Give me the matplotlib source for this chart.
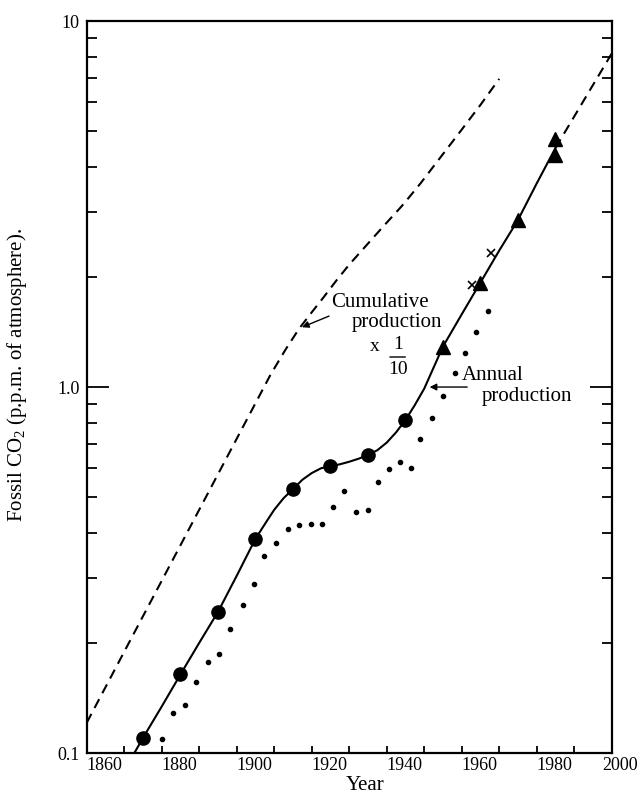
import matplotlib
matplotlib.use('Agg')
import matplotlib.pyplot as plt
import matplotlib.transforms as mtransforms
from matplotlib.ticker import LogLocator, NullFormatter, FixedLocator

plt.rcParams['font.family'] = ['Liberation Serif', 'DejaVu Serif']
plt.rcParams['mathtext.default'] = 'regular'

# Cumulative production x 1/10 (dashed curve)
cum_years = [1860, 1909, 1913, 1916.7, 1920, 1923, 1926.5, 1930, 1933.5, 1937, 1940.5, 1944,
             1946.5, 1949, 1955, 1960, 1965, 1970]
cum_vals = [0.121, 1.08, 1.265, 1.447, 1.60, 1.75, 1.95, 2.16, 2.37, 2.60, 2.85, 3.12,
            3.35, 3.60, 4.33, 5.05, 5.9, 6.95]

# Annual production, smoothed curve (solid)
ann_years = [1872.7, 1875, 1880, 1885, 1890, 1895, 1900, 1905, 1908, 1910, 1912.5, 1915, 1917.5,
             1920, 1922.5, 1925, 1927.5, 1930, 1932.5, 1935, 1937.5, 1940, 1942.5, 1945, 1947.5,
             1950, 1952.5, 1955, 1960, 1965, 1970, 1975, 1980, 1985]
ann_vals = [0.100, 0.110, 0.134, 0.164, 0.200, 0.243, 0.305, 0.385, 0.43, 0.462, 0.497, 0.526, 0.558,
            0.582, 0.600, 0.608, 0.615, 0.625, 0.637, 0.652, 0.672, 0.705, 0.752, 0.813, 0.893,
            0.99, 1.13, 1.29, 1.58, 1.93, 2.36, 2.86, 3.60, 4.50]

# Extrapolation to 2000 (dashed)
proj_years = [1985, 2000]
proj_vals = [4.50, 8.15]

# Decade means: circles and triangles
circle_years = [1875, 1885, 1895, 1905, 1915, 1925, 1935, 1945]
circle_vals = [0.110, 0.164, 0.243, 0.385, 0.526, 0.608, 0.652, 0.813]
tri_years = [1955, 1965, 1975, 1985, 1985]
tri_vals = [1.29, 1.93, 2.86, 4.30, 4.75]
cross_years = [1962.7, 1967.7]
cross_vals = [1.90, 2.32]

# Individual years (small dots)
dot_years = [1880.0, 1883.1, 1886.2, 1889.1, 1892.3, 1895.4, 1898.3, 1901.6, 1904.6, 1907.4,
             1910.5, 1913.7, 1916.6, 1919.7, 1922.7, 1925.6, 1928.7, 1931.8, 1935.0, 1937.8,
             1940.6, 1943.5, 1946.4, 1949.0, 1952.1, 1954.9, 1958.1, 1960.8, 1963.7, 1966.9]
dot_vals = [0.109, 0.129, 0.135, 0.156, 0.177, 0.186, 0.218, 0.254, 0.290, 0.345,
            0.376, 0.410, 0.419, 0.422, 0.422, 0.471, 0.521, 0.456, 0.460, 0.550,
            0.597, 0.624, 0.602, 0.719, 0.825, 0.946, 1.095, 1.238, 1.41, 1.61]

x_ticks = list(range(1860, 2001, 10))
x_labels = [str(y) if y % 20 == 0 else '' for y in x_ticks]

fig = plt.figure(figsize=(6.41, 7.94), dpi=100)
ax = fig.add_axes([0.1353, 0.0516, 0.819, 0.9219])

dash = (0, (4.8, 3.2))
ax.plot(cum_years, cum_vals, color='black', lw=1.5, linestyle=dash)
ax.plot(ann_years, ann_vals, color='black', lw=1.5)
ax.plot(proj_years, proj_vals, color='black', lw=1.5, linestyle=dash)
ax.plot(dot_years, dot_vals, 'o', color='black', ms=3.0, ls='none')
ax.plot(circle_years, circle_vals, 'o', color='black', ms=9.5, ls='none')
ax.plot(tri_years, tri_vals, '^', color='black', ms=9.5, ls='none')
ax.plot(cross_years, cross_vals, 'x', color='black', ms=6, mew=1.2, ls='none')

ax.set_yscale('log')
ax.set_xlim(1860, 2000)
ax.set_ylim(0.1, 10)

ax.set_yticks([0.1, 1, 10])
ax.set_yticklabels(['0.1', '1.0', '10'])
ax.yaxis.set_minor_locator(LogLocator(base=10, subs=range(2, 10)))
ax.yaxis.set_minor_formatter(NullFormatter())
ax.set_xticks(x_ticks)
ax.set_xticklabels(x_labels)
ax.xaxis.set_minor_locator(FixedLocator([]))

ax.tick_params(axis='y', which='both', direction='in', left=True, right=True, width=1.3,
               labelsize=13, pad=5)
ax.tick_params(axis='y', which='major', length=16)
ax.tick_params(axis='y', which='minor', length=7)
ax.tick_params(axis='x', which='major', direction='in', bottom=True, top=False, length=5,
               width=1.3, labelsize=13, pad=3)

for s in ax.spines.values():
    s.set_linewidth(1.6)

xl = ax.get_xticklabels()
plt.setp(xl, ha='left')
shift = mtransforms.ScaledTranslation(-0.09, 0, fig.dpi_scale_trans)
xl[-1].set_transform(xl[-1].get_transform() + shift)

fig.text(17 / 641, 1 - 375 / 794, 'Fossil CO$_{2}$ (p.p.m. of atmosphere).', rotation=90,
         ha='center', va='center', fontsize=15)
fig.text(365 / 641, 1 - 786 / 794, 'Year', ha='center', va='center', fontsize=15)

# annotations
ax.text(1925.1, 1.70, 'Cumulative', fontsize=15, ha='left', va='center')
ax.text(1930.7, 1.50, 'production', fontsize=15, ha='left', va='center')
ax.annotate('', xy=(1916.7, 1.447), xytext=(1925.3, 1.573),
            arrowprops=dict(arrowstyle='-|>', color='black', lw=1.0, mutation_scale=10))
ax.text(1936.9, 1.29, 'x', fontsize=14, ha='center', va='center')
ax.text(1943.0, 1.31, '1', fontsize=14, ha='center', va='center')
ax.annotate('', xy=(1940.1, 1.208), xytext=(1945.7, 1.208),
            arrowprops=dict(arrowstyle='-', color='black', lw=1.0))
ax.text(1943.0, 1.12, '10', fontsize=14, ha='center', va='center')

ax.text(1960.0, 1.078, 'Annual', fontsize=15, ha='left', va='center')
ax.text(1965.3, 0.945, 'production', fontsize=15, ha='left', va='center')
ax.annotate('', xy=(1950.7, 1.0), xytext=(1962.2, 1.0),
            arrowprops=dict(arrowstyle='-|>', color='black', lw=1.0, mutation_scale=10))

fig.savefig('out.png', dpi=100)
